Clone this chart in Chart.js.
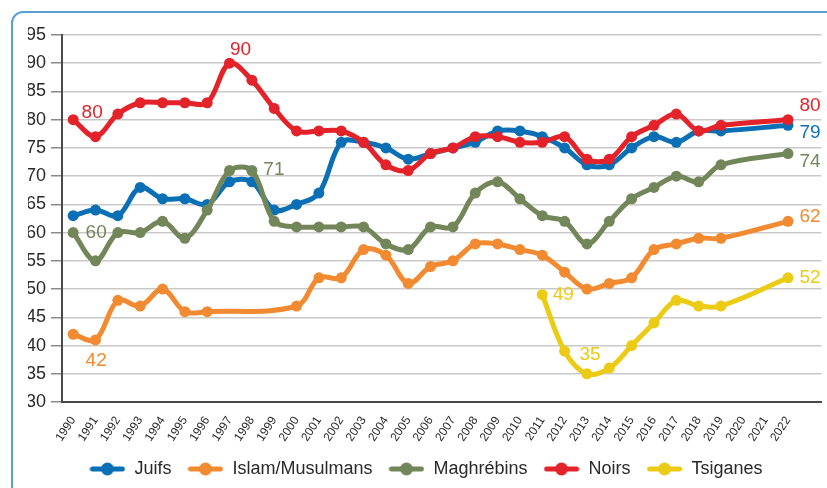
<!DOCTYPE html>
<html lang="fr">
<head>
    <meta charset="UTF-8">
    <title>Indice d'antisémitisme et de racisme</title>
    <style>
        body { margin: 0; background: #fff; overflow: hidden; }
        .frame {
            position: absolute;
            left: 11px; top: 11px;
            width: 900px; height: 600px;
            border: 2px solid #5a9fd6;
            border-radius: 12px;
        }
        .chart-box {
            position: absolute;
            left: 0; top: 0;
            width: 827px; height: 488px;
        }
    </style>
</head>
<body>
    <div class="frame"></div>
    <div class="chart-box">
        <canvas id="chart"></canvas>
    </div>

    <script src="https://cdn.jsdelivr.net/npm/chart.js@4"></script>
    <script>
        const years = ['1990', '1991', '1992', '1993', '1994', '1995', '1996', '1997', '1998', '1999',
            '2000', '2001', '2002', '2003', '2004', '2005', '2006', '2007', '2008', '2009',
            '2010', '2011', '2012', '2013', '2014', '2015', '2016', '2017', '2018', '2019',
            '2020', '2021', '2022'];

        const juifs = [63, 64, 63, 68, 66, 66, 65, 69, 69, 64,
            65, 67, 76, 76, 75, 73, 74, 75, 76, 78,
            78, 77, 75, 72, 72, 75, 77, 76, 78, 78,
            null, null, 79];
        const islam = [42, 41, 48, 47, 50, 46, 46, null, null, null,
            47, 52, 52, 57, 56, 51, 54, 55, 58, 58,
            57, 56, 53, 50, 51, 52, 57, 58, 59, 59,
            null, null, 62];
        const maghrebins = [60, 55, 60, 60, 62, 59, 64, 71, 71, 62,
            61, 61, 61, 61, 58, 57, 61, 61, 67, 69,
            66, 63, 62, 58, 62, 66, 68, 70, 69, 72,
            null, null, 74];
        const noirs = [80, 77, 81, 83, 83, 83, 83, 90, 87, 82,
            78, 78, 78, 76, 72, 71, 74, 75, 77, 77,
            76, 76, 77, 73, 73, 77, 79, 81, 78, 79,
            null, null, 80];
        const tsiganes = [null, null, null, null, null, null, null, null, null, null,
            null, null, null, null, null, null, null, null, null, null,
            null, 49, 39, 35, 36, 40, 44, 48, 47, 47,
            null, null, 52];

        const yTicks = [30, 35, 40, 45, 50, 55, 60, 65, 70, 75, 80, 85, 90, 95];

        const FONT = "'Liberation Sans', Arial, sans-serif";

        // petit symbole ligne + point pour la légende
        function legendSymbol(color) {
            const c = document.createElement('canvas');
            c.width = 36; c.height = 14;
            const g = c.getContext('2d');
            g.strokeStyle = color;
            g.lineWidth = 5;
            g.lineCap = 'round';
            g.beginPath(); g.moveTo(3, 7); g.lineTo(33, 7); g.stroke();
            g.fillStyle = color;
            g.beginPath(); g.arc(18, 7, 6.5, 0, Math.PI * 2); g.fill();
            return c;
        }

        function serie(label, data, color, order) {
            return {
                label: label,
                data: data,
                borderColor: color,
                backgroundColor: color,
                borderWidth: 5,
                pointRadius: 5.5,
                pointHoverRadius: 5.5,
                pointBorderWidth: 0,
                tension: 0.35,
                spanGaps: true,
                order: order
            };
        }

        // étiquettes de valeurs : [dataset, année, dx, dy]
        const valueLabels = [
            [3, '1990', 19, -7], [3, '1997', 11, -13], [2, '1998', 22, -1],
            [2, '1990', 23, 0], [1, '1990', 23, 27], [4, '2011', 21, 0],
            [4, '2013', 3, -19], [3, '2022', 22, -14], [0, '2022', 22, 7],
            [2, '2022', 22, 8], [1, '2022', 22, -5], [4, '2022', 22, 0]
        ];

        const labelPlugin = {
            id: 'valueLabels',
            afterDatasetsDraw(chart) {
                const ctx = chart.ctx;
                const xs = chart.scales.x, ys = chart.scales.y;
                ctx.save();
                ctx.font = '19px ' + FONT;
                ctx.textAlign = 'center';
                ctx.textBaseline = 'middle';
                valueLabels.forEach(([di, yr, dx, dy]) => {
                    const ds = chart.data.datasets[di];
                    const idx = years.indexOf(yr);
                    const v = ds.data[idx];
                    ctx.fillStyle = ds.borderColor;
                    ctx.fillText(String(v), xs.getPixelForValue(idx) + dx, ys.getPixelForValue(v) + dy);
                });
                ctx.restore();
            }
        };

        const datasets = [
            serie('Juifs', juifs, '#0b6fb5', 5),
            serie('Islam/Musulmans', islam, '#f28a31', 4),
            serie('Maghrébins', maghrebins, '#738659', 3),
            serie('Noirs', noirs, '#e3222a', 2),
            serie('Tsiganes', tsiganes, '#ebcb14', 1)
        ];

        new Chart(document.getElementById('chart'), {
            type: 'line',
            data: {
                labels: years.concat(['']),
                datasets: datasets
            },
            options: {
                responsive: true,
                maintainAspectRatio: false,
                animation: false,
                layout: { padding: { top: 35, right: 3, left: 28, bottom: 0 } },
                plugins: {
                    tooltip: { enabled: false },
                    legend: {
                        position: 'bottom',
                        labels: {
                            usePointStyle: true,
                            pointStyleWidth: 36,
                            padding: 16,
                            color: '#2a2a2a',
                            font: { family: FONT, size: 18 },
                            generateLabels: (chart) => chart.data.datasets.map((ds, i) => ({
                                text: ds.label,
                                pointStyle: legendSymbol(ds.borderColor),
                                fillStyle: ds.borderColor,
                                strokeStyle: ds.borderColor,
                                lineWidth: 0,
                                fontColor: '#2a2a2a',
                                hidden: false,
                                datasetIndex: i
                            }))
                        }
                    }
                },
                scales: {
                    x: {
                        offset: true,
                        grid: { display: false },
                        border: { display: true, color: '#4a4a4a', width: 2 },
                        ticks: {
                            autoSkip: false,
                            maxRotation: 57,
                            minRotation: 57,
                            padding: 4,
                            color: '#2a2a2a',
                            font: { family: FONT, size: 12 }
                        },
                        afterFit: (s) => { s.height = 42; }
                    },
                    y: {
                        min: 30,
                        max: 95,
                        afterBuildTicks: (s) => { s.ticks = yTicks.map(v => ({ value: v })); },
                        grid: { color: '#c9c9c9', lineWidth: 1.5, tickLength: 11, tickColor: '#8a8a8a' },
                        border: { display: true, color: '#4a4a4a', width: 2 },
                        ticks: {
                            padding: 5,
                            color: '#2a2a2a',
                            font: { family: FONT, size: 18 }
                        },
                        afterFit: (s) => { s.width = 34; }
                    }
                }
            },
            plugins: [labelPlugin]
        });
    </script>
</body>
</html>
